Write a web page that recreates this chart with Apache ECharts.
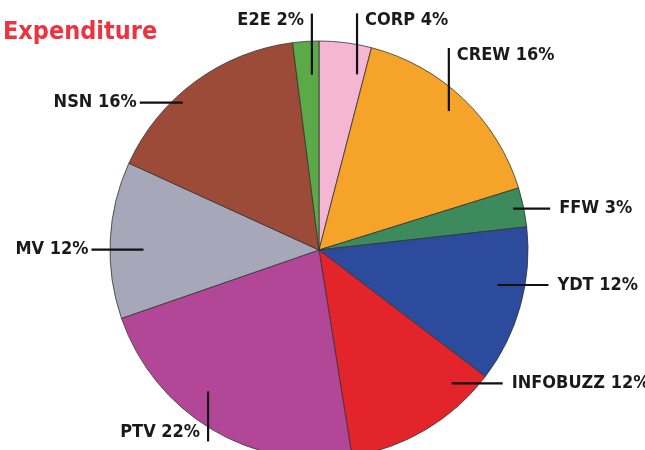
<!DOCTYPE html>
<html>
<head>
<meta charset="utf-8">
<script src="https://cdn.jsdelivr.net/npm/echarts@6/dist/echarts.min.js"></script>
<style>
  html, body { margin: 0; padding: 0; background: #fff; }
  #chart { width: 645px; height: 450px; }
</style>
</head>
<body>
<div id="chart"></div>
<script>
const names = ["CORP", "CREW", "FFW", "YDT", "INFOBUZZ", "PTV", "MV", "NSN", "E2E"];
const shares = [4, 16, 3, 12, 12, 22, 12, 16, 2];
const colors = ["#f4b6d2", "#f5a329", "#3d8a5c", "#2c4b9c", "#e3242b", "#b24797", "#a6a7b9", "#9b4b38", "#5caa47"];

// where each leader line starts inside its slice, and which way it runs
const leaders = [
  { frac: 0.84, rf: 0.86, dir: "up", len: 61, side: "right" },
  { frac: 0.49, rf: 0.91, dir: "up", len: 63, side: "right" },
  { frac: 0.48, rf: 0.95, dir: "right", len: 37 },
  { frac: 0.40, rf: 0.87, dir: "right", len: 51 },
  { frac: 0.18, rf: 0.90, dir: "right", len: 51 },
  { frac: 0.59, rf: 0.86, dir: "down", len: 50, side: "left" },
  { frac: 0.44, rf: 0.84, dir: "left", len: 52 },
  { frac: 0.39, rf: 0.96, dir: "left", len: 43 },
  { frac: 0.68, rf: 0.84, dir: "up", len: 61, side: "left" }
];

const cx = 319, cy = 250, R = 209;
const font = "'DejaVu Sans Condensed', 'DejaVu Sans', sans-serif";

const total = shares.reduce((a, b) => a + b, 0);
const starts = [];
let acc = 0;
shares.forEach(v => { starts.push(acc); acc += v; });

function anchor(i) {
  const l = leaders[i];
  const a0 = starts[i] / total * 2 * Math.PI;
  const a1 = (starts[i] + shares[i]) / total * 2 * Math.PI;
  const a = a0 + (a1 - a0) * l.frac;
  const r = R * l.rf;
  return [cx + r * Math.sin(a), cy - r * Math.cos(a)];
}

function placeLabel(p) {
  const i = p.dataIndex;
  const l = leaders[i];
  const s = anchor(i);
  let e, x, y, align;
  if (l.dir === "up") {
    e = [s[0], s[1] - l.len];
    y = e[1] + 7;
    if (l.side === "right") { x = e[0] + 8; align = "left"; }
    else { x = e[0] - 8; align = "right"; }
  } else if (l.dir === "down") {
    e = [s[0], s[1] + l.len];
    y = e[1] - 9;
    x = e[0] - 8; align = "right";
  } else if (l.dir === "right") {
    e = [s[0] + l.len, s[1]];
    x = e[0] + 9; y = e[1]; align = "left";
  } else {
    e = [s[0] - l.len, s[1]];
    x = e[0] - 3; y = e[1]; align = "right";
  }
  return { x: x, y: y, align: align, verticalAlign: "middle", labelLinePoints: [s, e, e] };
}

const pieData = names.map((n, i) => ({ name: n, value: shares[i], itemStyle: { color: colors[i] } }));

const chart = echarts.init(document.getElementById("chart"));
chart.setOption({
  animation: false,
  title: {
    text: "Expenditure",
    left: -2,
    top: 15,
    textStyle: { color: "#ec3340", fontSize: 25, fontWeight: "bold", fontFamily: font }
  },
  series: [
    {
      type: "pie",
      z: 2,
      center: [cx, cy],
      radius: R,
      startAngle: 90,
      clockwise: true,
      silent: true,
      itemStyle: { borderColor: "#333", borderWidth: 0.8 },
      label: { show: false },
      labelLine: { show: false },
      data: pieData
    },
    {
      // same slices again, transparent, only to draw labels and leader lines on top
      type: "pie",
      z: 3,
      center: [cx, cy],
      radius: R,
      startAngle: 90,
      clockwise: true,
      silent: true,
      avoidLabelOverlap: false,
      itemStyle: { color: "rgba(0,0,0,0)", borderWidth: 0 },
      label: {
        show: true,
        formatter: p => p.name + " " + p.value + "%",
        color: "#1a1a1a",
        fontSize: 18,
        fontWeight: "bold",
        fontFamily: font
      },
      labelLine: { show: true, lineStyle: { color: "#111", width: 2.2 } },
      labelLayout: placeLabel,
      data: names.map((n, i) => ({ name: n, value: shares[i] }))
    }
  ]
});
</script>
</body>
</html>
